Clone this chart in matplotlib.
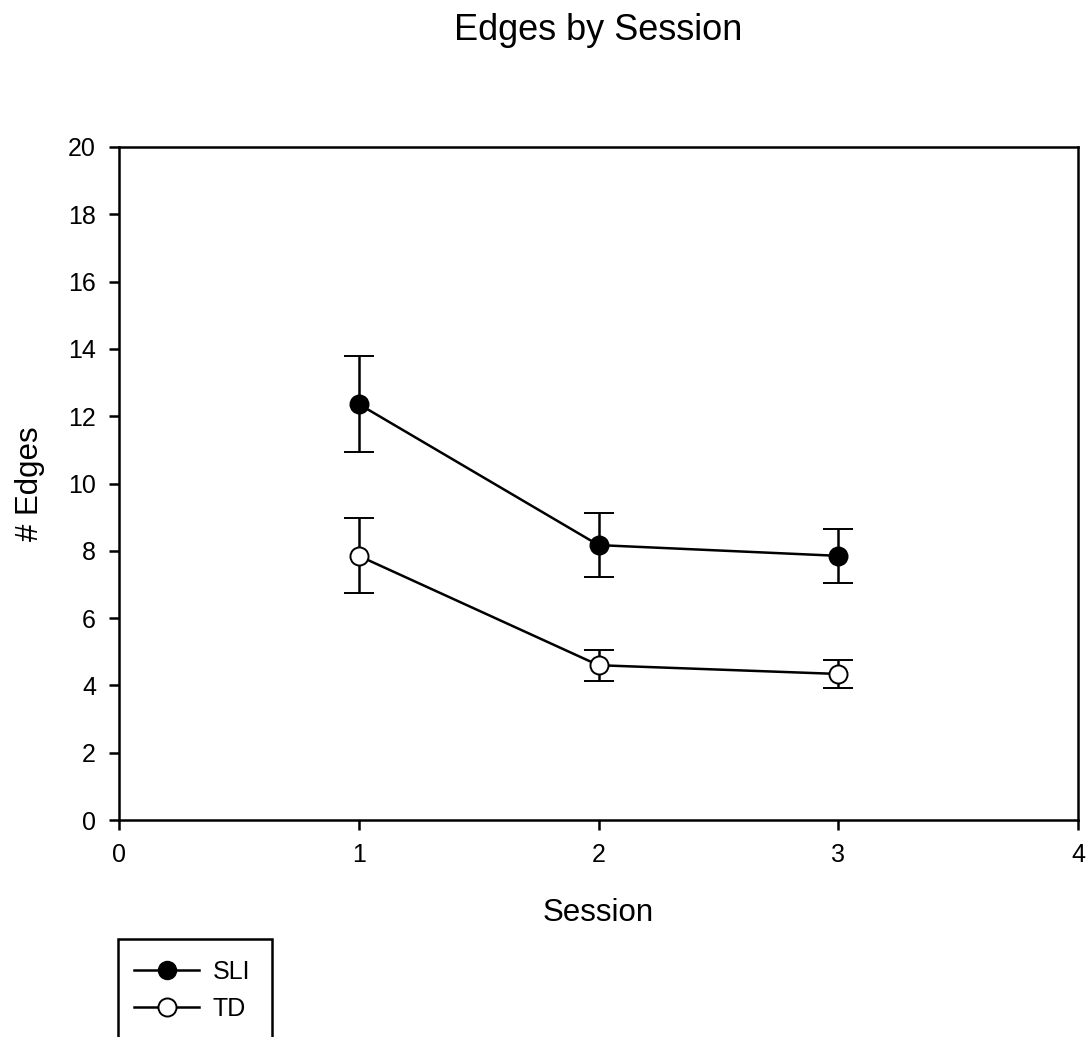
import matplotlib.pyplot as plt
from matplotlib.patches import Rectangle
from matplotlib.lines import Line2D

plt.rcParams['font.family'] = ['Liberation Sans', 'DejaVu Sans']

sessions = [1, 2, 3]
sli_mean = [12.36, 8.17, 7.85]
sli_err = [1.43, 0.94, 0.81]
td_mean = [7.85, 4.60, 4.34]
td_err = [1.11, 0.46, 0.42]

W, H = 1087, 1037
fig = plt.figure(figsize=(W / 100, H / 100), dpi=100)
ax = fig.add_axes([119 / W, 1 - 820 / H, (1078 - 119) / W, (820 - 147) / H])

style = dict(color='black', lw=1.8, marker='o', markersize=13, capsize=11,
             elinewidth=1.8, capthick=1.8, markeredgecolor='black', markeredgewidth=1.4)
ax.errorbar(sessions, sli_mean, yerr=sli_err, markerfacecolor='black', zorder=3, **style)
ax.errorbar(sessions, td_mean, yerr=td_err, markerfacecolor='white', zorder=3, **style)

ax.set_xlim(0, 4)
ax.set_ylim(0, 20)
ax.set_xticks([0, 1, 2, 3, 4])
ax.set_yticks(range(0, 21, 2))
ax.tick_params(direction='out', length=7.5, width=1.8, labelsize=18, pad=9)
for s in ax.spines.values():
    s.set_linewidth(1.8)

ax.set_xlabel('Session', fontsize=22.5, va='center')
ax.xaxis.set_label_coords(0.5, (820 - 913) / 673)
ax.set_ylabel('# Edges', fontsize=22.5, va='center')
ax.yaxis.set_label_coords((30 - 119) / 959, 0.5)
fig.text((119 + 1078) / 2 / W, 1 - 30 / H, 'Edges by Session', ha='center', va='center', fontsize=26)

# legend box, runs off the bottom of the picture
fig.patches.append(Rectangle((118 / W, -0.05), (272 - 118) / W, 0.05 + 1 - 939 / H,
                             transform=fig.transFigure, fill=False, edgecolor='black', lw=1.8))
handles = [Line2D([], [], color='black', lw=1.8, marker='o', markersize=13,
                  markerfacecolor='black', markeredgecolor='black'),
           Line2D([], [], color='black', lw=1.8, marker='o', markersize=13,
                  markerfacecolor='white', markeredgecolor='black', markeredgewidth=1.4)]
fig.legend(handles, ['SLI', 'TD'], loc='upper left', bbox_to_anchor=(134 / W, 1 - 960 / H),
           frameon=False, fontsize=18, handlelength=2.6, handletextpad=0.55,
           labelspacing=0.5, borderpad=0, borderaxespad=0)

fig.savefig('out.png', dpi=100)
